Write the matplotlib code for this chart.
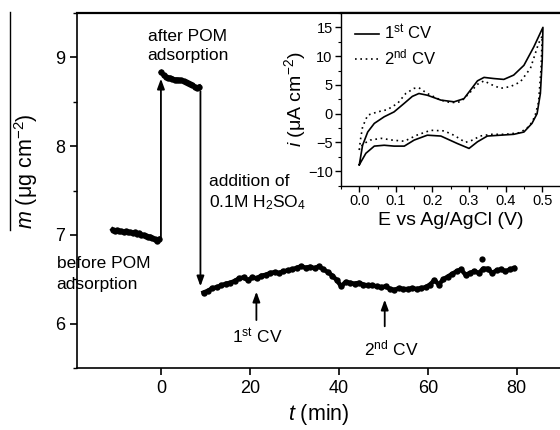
import matplotlib
matplotlib.use("Agg")
import matplotlib.pyplot as plt
from matplotlib.lines import Line2D
from matplotlib.ticker import MultipleLocator

plt.rcParams['font.family'] = ['Liberation Sans', 'DejaVu Sans']
plt.rcParams['mathtext.fontset'] = 'custom'
plt.rcParams['mathtext.rm'] = 'Liberation Sans'
plt.rcParams['mathtext.it'] = 'Liberation Sans:italic'
plt.rcParams['mathtext.bf'] = 'Liberation Sans:bold'

# ---------------- main data: mass vs time ----------------
t_before = [-11, -10.5, -10, -9.5, -9, -8.5, -8, -7.5, -7, -6.5, -6, -5.5, -5, -4.5,
            -4, -3.5, -3, -2.5, -2, -1.5, -1, -0.5]
m_before = [7.06, 7.04, 7.05, 7.04, 7.04, 7.03, 7.04, 7.03, 7.03, 7.02, 7.03, 7.01, 7.02, 7.00,
            7.00, 6.99, 6.98, 6.98, 6.96, 6.95, 6.93, 6.95]

t_after = [0, 0.5, 1, 1.5, 2, 2.5, 3, 3.5, 4, 4.5, 5, 5.5, 6, 6.5, 7, 7.5, 8, 8.5]
m_after = [8.83, 8.80, 8.78, 8.77, 8.77, 8.76, 8.75, 8.75, 8.745, 8.74, 8.73, 8.72, 8.71,
           8.70, 8.69, 8.67, 8.66, 8.67]

t_acid = [9.5, 10.5, 11.5, 12.5, 13.5, 14.5, 15.5, 16.5, 17.5, 18.5, 19.5, 20.5, 21.5, 22.5,
          23.5, 24.5, 25.5, 26.5, 27.5, 28.5, 29.5, 30.5, 31.5, 32.5, 33.5, 34.5, 35.5, 36.5,
          37.5, 38.5, 39.5, 40.5, 41.5, 42.5, 43.5, 44.5, 45.5, 46.5, 47.5, 48.5, 49.5, 50.5,
          51.5, 52.5, 53.5, 54.5, 55.5, 56.5, 57.5, 58.5, 59.5, 60.5, 61.5, 62.5, 63.5, 64.5,
          65.5, 66.5, 67.5, 68.5, 69.5, 70.5, 71.5, 72.5, 73.5, 74.5, 75.5, 76.5, 77.5, 78.5,
          79.5]
m_acid = [6.35, 6.37, 6.40, 6.41, 6.43, 6.45, 6.46, 6.48, 6.51, 6.52, 6.49, 6.52, 6.51, 6.54,
          6.55, 6.57, 6.58, 6.57, 6.59, 6.60, 6.61, 6.63, 6.645, 6.63, 6.64, 6.625, 6.645, 6.61,
          6.58, 6.54, 6.49, 6.42, 6.47, 6.46, 6.45, 6.46, 6.44, 6.43, 6.43, 6.42, 6.41, 6.42,
          6.39, 6.38, 6.40, 6.39, 6.39, 6.40, 6.39, 6.40, 6.41, 6.44, 6.49, 6.44, 6.50, 6.53,
          6.56, 6.59, 6.61, 6.55, 6.57, 6.59, 6.57, 6.62, 6.62, 6.57, 6.60, 6.61, 6.59, 6.61,
          6.625]
t_outlier = [72.3]
m_outlier = [6.73]

# ---------------- inset data: cyclic voltammograms ----------------
E_cv1 = [0.0, 0.009, 0.023, 0.041, 0.068, 0.095, 0.123, 0.145, 0.163, 0.186, 0.223, 0.259,
         0.286, 0.304, 0.323, 0.341, 0.368, 0.395, 0.422, 0.45, 0.477, 0.502,
         0.5, 0.495, 0.486, 0.472, 0.45, 0.422, 0.386, 0.35, 0.323, 0.3, 0.268, 0.223,
         0.186, 0.15, 0.123, 0.095, 0.068, 0.041, 0.018, 0.0]
i_cv1 = [-8.9, -5.5, -3.2, -1.7, -0.55, 0.3, 1.8, 3.0, 3.5, 3.2, 2.35, 2.05,
         2.6, 4.1, 5.7, 6.3, 6.1, 5.95, 6.7, 8.4, 11.6, 15.0,
         9.3, 3.5, 0.0, -1.7, -3.2, -3.6, -3.75, -3.9, -4.9, -6.05, -5.2, -3.9,
         -3.75, -4.6, -5.65, -5.65, -5.5, -5.65, -6.9, -8.9]

E_cv2 = [0.0, 0.003, 0.009, 0.023, 0.05, 0.077, 0.105, 0.127, 0.15, 0.163, 0.186, 0.223,
         0.25, 0.277, 0.3, 0.323, 0.341, 0.359, 0.386, 0.413, 0.44, 0.468, 0.49, 0.5,
         0.497, 0.49, 0.48, 0.465, 0.44, 0.4, 0.36, 0.33, 0.31, 0.29, 0.26, 0.232, 0.195,
         0.159, 0.123, 0.09, 0.06, 0.03, 0.01, 0.0]
i_cv2 = [-6.3, -4.6, -2.3, -0.26, 0.3, 0.7, 1.8, 3.5, 4.4, 4.5, 3.5, 2.35,
         1.9, 2.05, 3.5, 5.1, 5.7, 5.1, 4.4, 4.7, 5.5, 7.9, 12.2, 13.5,
         8.0, 2.0, -0.5, -2.2, -3.3, -3.6, -3.6, -3.9, -4.6, -5.0, -3.8, -3.0, -2.9,
         -3.7, -4.8, -4.6, -4.3, -4.6, -5.3, -6.3]

W, H = 560, 430
fig = plt.figure(figsize=(5.6, 4.3), dpi=100)

def fx(px):
    return px / W

def fy(py):
    return 1 - py / H

ax = fig.add_axes([fx(77), fy(368), fx(561) - fx(77), fy(13) - fy(368)])
ax.set_xlim(-19, 90)
ax.set_ylim(5.5, 9.5)

mk = dict(color='black', lw=3.2, marker='o', ms=4.6, mew=0)
ax.plot(t_before, m_before, **mk)
ax.plot(t_after, m_after, **mk)
ax.plot(t_acid, m_acid, **mk)
ax.plot(t_outlier, m_outlier, 'o', color='black', ms=4.5, mew=0)

ax.spines['right'].set_visible(False)
for s in ['left', 'bottom', 'top']:
    ax.spines[s].set_linewidth(1.2)
ax.spines['top'].set_linewidth(1.6)

ax.set_xticks([0, 20, 40, 60, 80])
ax.set_yticks([6, 7, 8, 9])
ax.yaxis.set_minor_locator(MultipleLocator(0.5))
ax.tick_params(axis='both', which='major', direction='out', length=5, width=1.2,
               labelsize=13, top=False, right=False)
ax.tick_params(axis='y', which='minor', direction='out', length=3, width=1.0)
ax.set_xlabel('$t$ (min)', fontsize=15.5, labelpad=4)

fig.text(fx(26), fy(171), r'$m$ ($\mathrm{\mu g\ cm^{-2}}$)', rotation=90,
         ha='center', va='center', fontsize=15.5)
fig.add_artist(Line2D([fx(10), fx(10)], [fy(12), fy(230)], color='black', lw=1.0))

arr = dict(arrowstyle='-|>,head_length=0.6,head_width=0.22', color='black', lw=1.3,
           shrinkA=0, shrinkB=0)
ax.annotate('', xy=(-0.1, 8.76), xytext=(-0.1, 6.97), arrowprops=arr)
ax.annotate('', xy=(8.8, 6.42), xytext=(8.8, 8.62), arrowprops=arr)
ax.annotate('', xy=(21.4, 6.36), xytext=(21.4, 6.04), arrowprops=arr)
ax.annotate('', xy=(50.3, 6.27), xytext=(50.3, 5.97), arrowprops=arr)

fs = 12.5
ax.text(-3.1, 9.23, 'after POM', fontsize=fs, ha='left', va='center')
ax.text(-3.1, 9.02, 'adsorption', fontsize=fs, ha='left', va='center')
ax.text(10.7, 7.60, 'addition of', fontsize=fs, ha='left', va='center')
ax.text(10.7, 7.36, '0.1M H$_2$SO$_4$', fontsize=fs, ha='left', va='center')
ax.text(-23.6, 6.68, 'before POM', fontsize=fs, ha='left', va='center', clip_on=False)
ax.text(-23.6, 6.44, 'adsorption', fontsize=fs, ha='left', va='center', clip_on=False)
ax.text(21.7, 5.86, '1$^{\\mathrm{st}}$ CV', fontsize=fs, ha='center', va='center')
ax.text(51.7, 5.72, '2$^{\\mathrm{nd}}$ CV', fontsize=fs, ha='center', va='center')

# ---------------- inset ----------------
ins = fig.add_axes([fx(341), fy(185.5), fx(560.5) - fx(341), fy(13) - fy(185.5)])
ins.set_xlim(-0.05, 0.55)
ins.set_ylim(-12.5, 17.5)
ins.plot(E_cv1, i_cv1, color='black', lw=1.2, label='1$^{\\mathrm{st}}$ CV')
ins.plot(E_cv2, i_cv2, color='black', lw=1.2, ls=(0, (1, 2.2)), label='2$^{\\mathrm{nd}}$ CV')
ins.spines['right'].set_visible(False)
for s in ['left', 'bottom']:
    ins.spines[s].set_linewidth(1.0)
ins.spines['top'].set_linewidth(1.6)
ins.set_xticks([0.0, 0.1, 0.2, 0.3, 0.4, 0.5])
ins.set_xticklabels(['0.0', '0.1', '0.2', '0.3', '0.4', '0.5'])
ins.set_yticks([-10, -5, 0, 5, 10, 15])
ins.xaxis.set_minor_locator(MultipleLocator(0.05))
ins.yaxis.set_minor_locator(MultipleLocator(2.5))
ins.tick_params(axis='both', which='major', direction='out', length=4, width=1.0,
                labelsize=10.5, top=False, right=False, pad=2)
ins.tick_params(axis='both', which='minor', direction='out', length=2, width=0.8,
                top=False, right=False)
ins.set_xlabel('E vs Ag/AgCl (V)', fontsize=14, labelpad=3)
ins.set_ylabel(r'$i$ ($\mathrm{\mu A\ cm^{-2}}$)', fontsize=14, labelpad=0)
ins.legend(loc='upper left', frameon=False, fontsize=12, handlelength=1.4,
           handletextpad=0.3, borderaxespad=0.2, labelspacing=0.3,
           bbox_to_anchor=(0.02, 1.0))

fig.savefig('out.png', dpi=100)
